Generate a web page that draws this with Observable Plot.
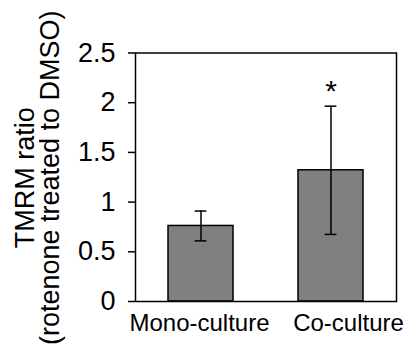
<!DOCTYPE html>
<html>
<head>
<meta charset="utf-8">
<script src="https://cdn.jsdelivr.net/npm/d3@7"></script>
<script src="https://cdn.jsdelivr.net/npm/@observablehq/plot@0.6"></script>
<style>
  html, body { margin: 0; padding: 0; background: #fff; }
  #chart { width: 411px; height: 345px; }
</style>
</head>
<body>
<div id="chart"></div>
<script>
// Data
const categories = ["Mono-culture", "Co-culture"];
const values = [0.76, 1.32];
const errors = [0.15, 0.645];
const significance = ["", "*"];
const yTicks = [0, 0.5, 1, 1.5, 2, 2.5];
const yLabelLines = ["TMRM ratio", "(rotenone treated to DMSO)"];

const data = categories.map((c, i) => ({
  category: c, value: values[i], err: errors[i], sig: significance[i]
}));

const font = "'Liberation Sans', Arial, Helvetica, sans-serif";

const chart = Plot.plot({
  width: 411,
  height: 345,
  marginLeft: 135,
  marginRight: 15,
  marginTop: 52.5,
  marginBottom: 44,
  style: { fontFamily: font, fontSize: "24px", color: "black", background: "white" },
  x: {
    type: "band",
    domain: categories,
    paddingInner: 0.5,
    paddingOuter: 0.25,
    axis: null
  },
  y: {
    domain: [0, 2.5],
    axis: null
  },
  marks: [
    Plot.barY(data, {
      x: "category", y: "value",
      fill: "#808080", stroke: "black", strokeWidth: 1.5
    }),
    Plot.ruleX(data, {
      x: "category",
      y1: d => d.value - d.err, y2: d => d.value + d.err,
      stroke: "black", strokeWidth: 1.5
    }),
    Plot.tickY(data, {
      x: "category", y: d => d.value + d.err,
      stroke: "black", strokeWidth: 1.5, insetLeft: 26.6, insetRight: 26.6
    }),
    Plot.tickY(data, {
      x: "category", y: d => d.value - d.err,
      stroke: "black", strokeWidth: 1.5, insetLeft: 26.6, insetRight: 26.6
    }),
    Plot.text(data, {
      x: "category", y: d => d.value + d.err, text: "sig",
      dy: -14.5, fontSize: 30, fill: "black"
    }),
    Plot.frame({ stroke: "black", strokeWidth: 1.5 }),
    Plot.axisY(yTicks, {
      tickSize: 7, tickPadding: 13, strokeWidth: 1.5,
      tickFormat: d => String(d), fontSize: 27, label: null
    }),
    Plot.axisX([categories[0]], {
      tickSize: 0, tickPadding: 12, fontSize: 24, label: null, dx: -1.5
    }),
    Plot.axisX([categories[1]], {
      tickSize: 0, tickPadding: 12, fontSize: 24, label: null, dx: 17.5
    }),
    Plot.text([yLabelLines.join("\n")], {
      frameAnchor: "left", textAnchor: "middle", lineAnchor: "middle",
      rotate: -90, dx: -97, dy: 0.5,
      fontSize: 27, lineHeight: 0.92, fill: "black", text: d => d
    })
  ]
});

document.getElementById("chart").appendChild(chart);
</script>
</body>
</html>
